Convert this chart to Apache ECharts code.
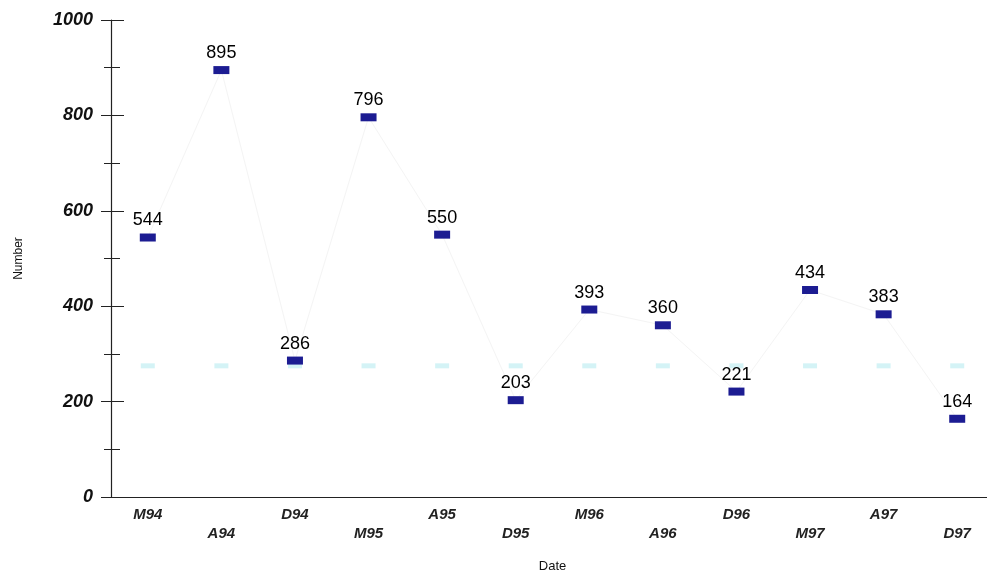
<!DOCTYPE html>
<html><head><meta charset="utf-8">
<script src="https://cdn.jsdelivr.net/npm/echarts@6/dist/echarts.min.js"></script>
<style>html,body{margin:0;padding:0;background:#fff;overflow:hidden}#c{width:1000px;height:574px}</style>
</head><body><div id="c"></div>
<script>
const categories = ['M94','A94','D94','M95','A95','D95','M96','A96','D96','M97','A97','D97'];
const numbers = [544, 895, 286, 796, 550, 203, 393, 360, 221, 434, 383, 164];
const faintLevel = [275, 275, 275, 275, 275, 275, 275, 275, 275, 275, 275, 275];
const yTicks = [0, 200, 400, 600, 800, 1000];

const FONT = '"Liberation Sans", Arial, sans-serif';
const chart = echarts.init(document.getElementById('c'));
const yBase = {
  type: 'value', min: 0, max: 1000, interval: 200,
  splitLine: {show: false}
};
chart.setOption({
  backgroundColor: '#fff',
  animation: false,
  grid: {left: 111, top: 20, width: 883, height: 477, containLabel: false, outerBoundsMode: 'none'},
  xAxis: {
    type: 'category', data: categories, boundaryGap: true,
    name: 'Date', nameLocation: 'middle', nameGap: 63,
    nameTextStyle: {fontFamily: FONT, fontSize: 13, color: '#111'},
    axisLine: {lineStyle: {color: '#222', width: 1.2}},
    axisTick: {alignWithLabel: true, length: 6, lineStyle: {color: '#222'}},
    axisLabel: {
      fontFamily: FONT, fontSize: 15, fontStyle: 'italic', fontWeight: 'bold',
      color: '#222', margin: 8, lineHeight: 19, interval: 0,
      formatter: (v, i) => (i % 2 ? '\n' + v : v)
    }
  },
  yAxis: [
    Object.assign({}, yBase, {
      name: 'Number', nameLocation: 'middle', nameGap: 86,
      nameTextStyle: {fontFamily: FONT, fontSize: 12, color: '#111'},
      axisLine: {show: true, lineStyle: {color: '#222', width: 1.2}},
      axisTick: {show: true, length: 10, lineStyle: {color: '#222'}},
      minorTick: {show: true, splitNumber: 2, length: 7, lineStyle: {color: '#222'}},
      axisLabel: {
        fontFamily: FONT, fontSize: 18, fontStyle: 'italic', fontWeight: 'bold',
        color: '#111', margin: 18,
        formatter: v => (yTicks.indexOf(v) >= 0 ? String(v) : '')
      }
    }),
    Object.assign({}, yBase, {
      position: 'left',
      axisLine: {show: false},
      axisTick: {show: true, inside: true, length: 13, lineStyle: {color: '#222'}},
      minorTick: {show: true, splitNumber: 2, length: 9, lineStyle: {color: '#222'}},
      axisLabel: {show: false}
    })
  ],
  series: [
    {
      type: 'line', data: numbers, yAxisIndex: 0, symbol: 'none', z: 1,
      lineStyle: {color: '#f4f4f4', width: 1}, silent: true
    },
    {
      type: 'scatter', data: faintLevel, yAxisIndex: 0, symbol: 'rect', symbolSize: [14, 5], z: 2,
      itemStyle: {color: 'rgba(160,228,235,0.45)', opacity: 1}, silent: true
    },
    {
      type: 'scatter', data: numbers, yAxisIndex: 0, symbol: 'rect', symbolSize: [16, 8], z: 3,
      itemStyle: {color: '#1c1c92', opacity: 1},
      label: {
        show: true, position: 'top', distance: 4,
        fontFamily: FONT, fontSize: 18, color: '#000'
      }
    }
  ]
});
</script></body></html>
